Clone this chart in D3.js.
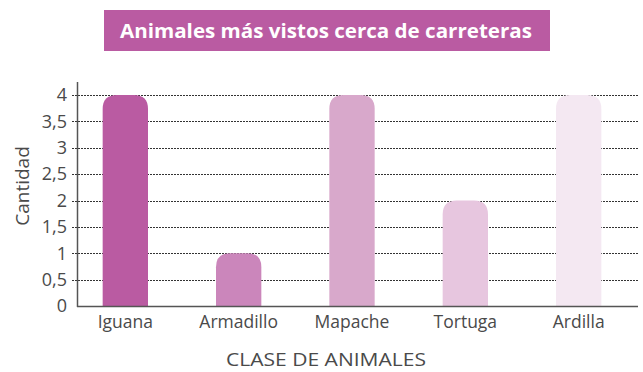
<!DOCTYPE html>
<html>
<head>
<meta charset="utf-8">
<script src="https://cdn.jsdelivr.net/npm/d3@7/dist/d3.min.js"></script>
<style>
  html, body { margin: 0; padding: 0; background: #fff; }
  svg { display: block; }
  text { font-family: "Open Sans", "Noto Sans", sans-serif; fill: #4a4a4a; }
</style>
</head>
<body>
<svg id="chart" width="643" height="372"></svg>
<script>
// Chart data
const categories = ["Iguana", "Armadillo", "Mapache", "Tortuga", "Ardilla"];
const values = [4, 1, 4, 2, 4];
const barColors = ["#ba5ba2", "#cb86bb", "#d8a8cb", "#e7c6df", "#f4e8f2"];
const yTicks = [0, 0.5, 1, 1.5, 2, 2.5, 3, 3.5, 4];
const titleText = "Animales más vistos cerca de carreteras";
const yTitle = "Cantidad";
const xTitle = "CLASE DE ANIMALES";

const svg = d3.select("#chart");

const x = d3.scaleBand()
  .domain(categories)
  .range([80, 624])
  .paddingInner(0.6)
  .paddingOuter(0.2);

const y = d3.scaleLinear()
  .domain([0, 4])
  .range([306, 95]);

const fmt = v => String(v).replace(".", ",");

// Title banner
svg.append("rect")
  .attr("x", 104).attr("y", 10)
  .attr("width", 446).attr("height", 41)
  .attr("fill", "#ba5ba2");
svg.append("text")
  .attr("x", 326).attr("y", 37.5)
  .attr("text-anchor", "middle")
  .attr("textLength", 412)
  .attr("lengthAdjust", "spacingAndGlyphs")
  .style("font-weight", "700")
  .style("font-size", "20px")
  .style("fill", "#fff")
  .text(titleText);

// Dotted gridlines
svg.append("g")
  .selectAll("line")
  .data(yTicks.filter(d => d > 0))
  .join("line")
  .attr("x1", 72).attr("x2", 638)
  .attr("y1", d => Math.round(y(d)) + 0.5)
  .attr("y2", d => Math.round(y(d)) + 0.5)
  .attr("stroke", "#333")
  .attr("stroke-width", 1)
  .attr("stroke-dasharray", "2,1");

// Bars with rounded tops
const r = 14;
function barPath(d, i) {
  const x0 = x(categories[i]);
  const w = x.bandwidth();
  const y0 = y(0);
  const y1 = y(d);
  const rr = Math.min(r, (y0 - y1), w / 2);
  return `M${x0},${y0} L${x0},${y1 + rr} Q${x0},${y1} ${x0 + rr},${y1} ` +
         `L${x0 + w - rr},${y1} Q${x0 + w},${y1} ${x0 + w},${y1 + rr} L${x0 + w},${y0} Z`;
}
svg.append("g")
  .selectAll("path")
  .data(values)
  .join("path")
  .attr("d", (d, i) => barPath(d, i))
  .attr("fill", (d, i) => barColors[i]);

// Y axis
const yAxis = d3.axisLeft(y)
  .tickValues(yTicks)
  .tickFormat(fmt)
  .tickSize(0)
  .tickPadding(10);
const yg = svg.append("g").attr("transform", "translate(77,0)").call(yAxis);
yg.select(".domain").remove();
yg.selectAll("text")
  .style("font-family", "'Open Sans', sans-serif")
  .style("font-size", "18px")
  .style("fill", "#4a4a4a");
svg.append("line")
  .attr("x1", 77.5).attr("x2", 77.5)
  .attr("y1", 82).attr("y2", 307)
  .attr("stroke", "#555").attr("stroke-width", 1.5);

// X axis
const xAxis = d3.axisBottom(x).tickSize(0).tickPadding(10);
const xg = svg.append("g").attr("transform", "translate(0,306)").call(xAxis);
xg.select(".domain").remove();
xg.selectAll("text")
  .style("font-family", "'Open Sans', sans-serif")
  .style("font-size", "17.5px")
  .style("fill", "#4a4a4a");
svg.append("line")
  .attr("x1", 77).attr("x2", 638)
  .attr("y1", 306.5).attr("y2", 306.5)
  .attr("stroke", "#555").attr("stroke-width", 1.5);

// Axis titles
svg.append("text")
  .attr("transform", "translate(29,186) rotate(-90)")
  .attr("text-anchor", "middle")
  .style("font-size", "19px")
  .text(yTitle);
svg.append("text")
  .attr("x", 326).attr("y", 366)
  .attr("text-anchor", "middle")
  .attr("textLength", 200)
  .attr("lengthAdjust", "spacingAndGlyphs")
  .style("font-size", "19px")
  .text(xTitle);
</script>
</body>
</html>
